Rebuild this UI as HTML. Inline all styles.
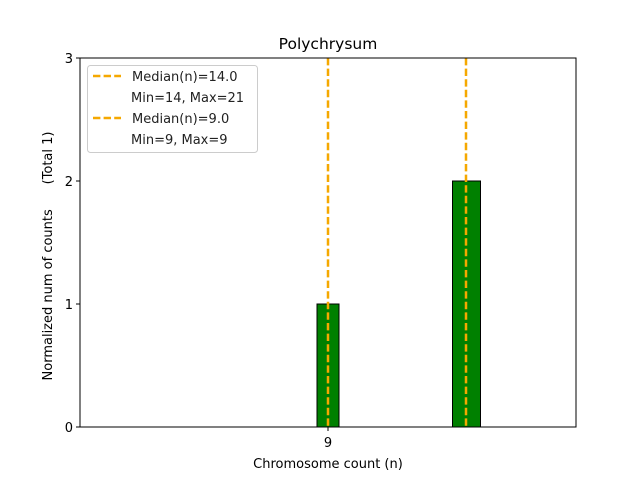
<!DOCTYPE html>
<html><head><meta charset="utf-8"><style>html,body{margin:0;padding:0;background:#fff}svg{display:block}</style></head>
<body>
<svg width="640" height="480" xmlns="http://www.w3.org/2000/svg" font-family="'DejaVu Sans','Liberation Sans',sans-serif">
<rect width="640" height="480" fill="#fff"/>
<rect x="317" y="304" width="22" height="123" fill="#008000" stroke="#000" stroke-width="1"/>
<rect x="452.5" y="181" width="28" height="246" fill="#008000" stroke="#000" stroke-width="1"/>
<line x1="328" y1="58" x2="328" y2="427" stroke="#f5a800" stroke-width="2.5" stroke-dasharray="7.4,3.2"/>
<line x1="466" y1="58" x2="466" y2="427" stroke="#f5a800" stroke-width="2.5" stroke-dasharray="7.4,3.2"/>
<rect x="80" y="58" width="496" height="369" fill="none" stroke="#000" stroke-width="1"/>
<g stroke="#000" stroke-width="1">
<line x1="76" y1="427" x2="80" y2="427"/><line x1="76" y1="304" x2="80" y2="304"/>
<line x1="76" y1="181" x2="80" y2="181"/><line x1="76" y1="58" x2="80" y2="58"/>
<line x1="328" y1="427" x2="328" y2="431"/>
</g>
<g font-size="13" fill="#000" text-anchor="end">
<text x="73" y="432">0</text><text x="73" y="309">1</text><text x="73" y="186">2</text><text x="73" y="63">3</text>
</g>
<text x="328" y="447" font-size="13" text-anchor="middle">9</text>
<text x="328" y="468" font-size="13" text-anchor="middle">Chromosome count (n)</text>
<text x="328" y="49" font-size="15.5" text-anchor="middle">Polychrysum</text>
<text transform="translate(52,256) rotate(-90)" font-size="13" text-anchor="middle" style="white-space:pre">Normalized num of counts      (Total 1)</text>
<rect x="87.5" y="65.5" width="170" height="87" rx="3" fill="#fff" fill-opacity="0.8" stroke="#ccc"/>
<g stroke="#f5a800" stroke-width="2.5" stroke-dasharray="7.4,3.2">
<line x1="93" y1="76" x2="121" y2="76"/><line x1="93" y1="118" x2="121" y2="118"/>
</g>
<g font-size="13" fill="#222">
<text x="132" y="81">Median(n)=14.0</text>
<text x="131" y="102">Min=14, Max=21</text>
<text x="132" y="123">Median(n)=9.0</text>
<text x="131" y="144">Min=9, Max=9</text>
</g>
</svg>
</body></html>
